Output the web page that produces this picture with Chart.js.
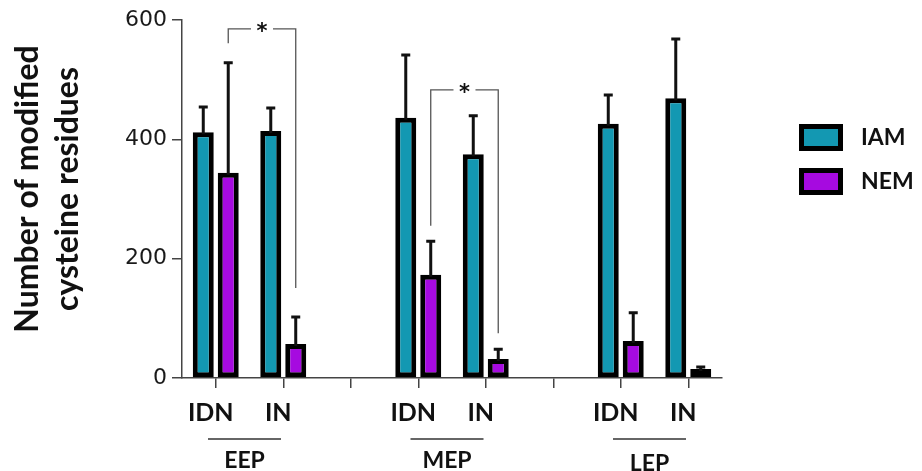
<!DOCTYPE html>
<html>
<head>
<meta charset="utf-8">
<script src="https://cdn.jsdelivr.net/npm/chart.js@4.4.0/dist/chart.umd.min.js"></script>
<style>
  body { margin: 0; background: #fff; }
  #wrap { width: 922px; height: 471px; position: relative; }
</style>
</head>
<body>
<div id="wrap"><canvas id="chBars"></canvas></div>
<script>
// categories along the x axis (blank ones are the gaps between groups)
var categories = ['IDN', 'IN', '', 'IDN', 'IN', '', 'IDN', 'IN'];
var groups = ['EEP', 'MEP', 'LEP'];
var groupMembers = [[0, 1], [3, 4], [6, 7]];

// mean values and upper error (SD) per category
var iamValues = [412, 414, null, 436, 375, null, 426, 469];
var iamErrors = [44, 40, null, 107, 66, null, 50, 101];
var nemValues = [344, 57, null, 173, 32, null, 62, 15];
var nemErrors = [186, 47, null, 58, 18, null, 49, 5];

var yTicks = [0, 200, 400, 600];

// significance brackets between NEM bars (values in y units)
var brackets = [
    { from: 0, to: 1, top: 585, leftEnd: 561, rightEnd: 151, label: '*' },
    { from: 3, to: 4, top: 483, leftEnd: 255, rightEnd: 75, label: '*' }
];

var colors = ['#1398b2', '#a60ae0'];
var axisColor = '#444';

// error bars, upward only
var errorBars = {
    id: 'errorBars',
    afterDatasetsDraw: function (chart) {
        var ctx = chart.ctx, y = chart.scales.y;
        chart.data.datasets.forEach(function (ds, di) {
            var meta = chart.getDatasetMeta(di);
            ds.errors.forEach(function (sd, i) {
                if (sd == null || ds.data[i] == null) return;
                var bar = meta.data[i];
                var top = y.getPixelForValue(ds.data[i] + sd);
                ctx.save();
                ctx.strokeStyle = '#111';
                ctx.lineWidth = 3;
                ctx.beginPath();
                ctx.moveTo(bar.x, bar.y + 2);
                ctx.lineTo(bar.x, top);
                ctx.moveTo(bar.x - 4.5, top + 1);
                ctx.lineTo(bar.x + 4.5, top + 1);
                ctx.stroke();
                ctx.restore();
            });
        });
    }
};

// brackets, group labels, y title, legend
var extras = {
    id: 'extras',
    afterDraw: function (chart) {
        var ctx = chart.ctx, x = chart.scales.x, y = chart.scales.y;
        var nemMeta = chart.getDatasetMeta(1);

        ctx.save();
        brackets.forEach(function (b) {
            var x1 = nemMeta.data[b.from].x, x2 = nemMeta.data[b.to].x;
            var yt = y.getPixelForValue(b.top);
            var mid = (x1 + x2) / 2;
            ctx.strokeStyle = '#555';
            ctx.lineWidth = 1.3;
            ctx.beginPath();
            ctx.moveTo(x1, y.getPixelForValue(b.leftEnd));
            ctx.lineTo(x1, yt);
            ctx.lineTo(mid - 11, yt);
            ctx.moveTo(mid + 11, yt);
            ctx.lineTo(x2, yt);
            ctx.lineTo(x2, y.getPixelForValue(b.rightEnd));
            ctx.stroke();
            ctx.fillStyle = '#111';
            ctx.font = 'bold 21px "DejaVu Sans"';
            ctx.textAlign = 'center';
            ctx.textBaseline = 'middle';
            ctx.fillText(b.label, mid, yt + 4);
        });

        // group underlines and names
        groups.forEach(function (g, gi) {
            var m = groupMembers[gi];
            var c = (x.getPixelForValue(m[0]) + x.getPixelForValue(m[1])) / 2 - 5;
            ctx.strokeStyle = '#333';
            ctx.lineWidth = 1.5;
            ctx.beginPath();
            ctx.moveTo(c - 36.5, 439);
            ctx.lineTo(c + 36.5, 439);
            ctx.stroke();
            ctx.fillStyle = '#111';
            ctx.font = 'bold 23px Lato';
            ctx.textAlign = 'center';
            ctx.textBaseline = 'alphabetic';
            ctx.fillText(g, c, gi === 2 ? 471 : 468);
        });

        // y title, two rotated lines
        ctx.fillStyle = '#111';
        ctx.font = 'bold 32px Lato';
        ctx.textAlign = 'center';
        ctx.textBaseline = 'alphabetic';
        [['Number of modified', 38], ['cysteine residues', 78]].forEach(function (t) {
            ctx.save();
            ctx.translate(t[1], 189);
            ctx.rotate(-Math.PI / 2);
            ctx.fillText(t[0], 0, 0);
            ctx.restore();
        });

        // legend
        chart.data.datasets.forEach(function (ds, di) {
            var top = 124 + di * 44;
            ctx.fillStyle = '#000';
            ctx.fillRect(799, top, 44, 27);
            ctx.fillStyle = ds.backgroundColor;
            ctx.fillRect(804, top + 5, 34, 17);
            ctx.fillStyle = '#111';
            ctx.font = 'bold 23px Lato';
            ctx.textAlign = 'left';
            ctx.textBaseline = 'middle';
            ctx.fillText(ds.label, 861, top + 14);
        });
        ctx.restore();
    }
};

new Chart(document.getElementById('chBars'), {
    type: 'bar',
    data: {
        labels: categories,
        datasets: [
            {
                label: 'IAM',
                data: iamValues,
                errors: iamErrors,
                backgroundColor: colors[0],
                borderColor: '#000',
                borderWidth: 5,
                borderSkipped: false,
                categoryPercentage: 0.74,
                barPercentage: 0.84
            },
            {
                label: 'NEM',
                data: nemValues,
                errors: nemErrors,
                backgroundColor: colors[1],
                borderColor: '#000',
                borderWidth: 5,
                borderSkipped: false,
                categoryPercentage: 0.74,
                barPercentage: 0.84
            }
        ]
    },
    options: {
        responsive: true,
        maintainAspectRatio: false,
        animation: false,
        layout: { padding: { top: 20, right: 200, left: 0, bottom: 0 } },
        plugins: { legend: { display: false }, tooltip: { enabled: false } },
        scales: {
            x: {
                afterFit: function (s) { s.height = 93; },
                grid: { drawOnChartArea: false, offset: false, tickLength: 10, color: axisColor, lineWidth: 1.5 },
                border: { color: axisColor, width: 1.5 },
                ticks: {
                    color: '#111',
                    padding: 10,
                    labelOffset: -5,
                    autoSkip: false,
                    maxRotation: 0,
                    font: { family: 'Lato', weight: 'bold', size: 25 }
                }
            },
            y: {
                min: 0,
                max: 600,
                afterFit: function (s) { s.width = 182; },
                afterBuildTicks: function (s) { s.ticks = yTicks.map(function (v) { return { value: v }; }); },
                grid: { drawOnChartArea: false, tickLength: 10, color: axisColor, lineWidth: 1.5 },
                border: { color: axisColor, width: 1.5 },
                ticks: {
                    color: '#1a1a1a',
                    padding: 5,
                    font: { family: 'DejaVu Sans', size: 22 }
                }
            }
        }
    },
    plugins: [errorBars, extras]
});
</script>
</body>
</html>
